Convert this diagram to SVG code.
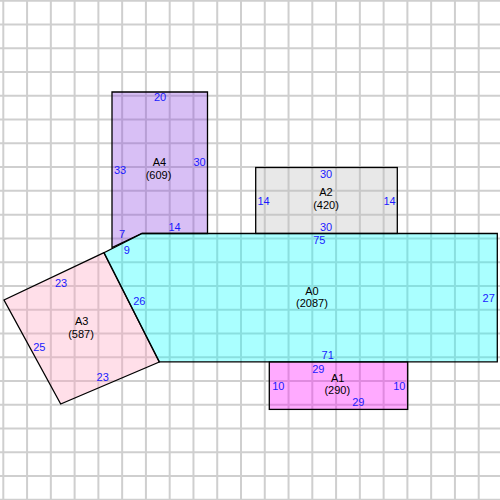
<svg xmlns="http://www.w3.org/2000/svg" width="500" height="500" viewBox="0 0 500 500">
<style>
.shape{stroke:#000;stroke-width:1.3;fill-opacity:0.333;stroke-linejoin:miter}
.grid{stroke:#cfcfcf;stroke-width:2;fill:none}
.lbl{font-family:"Liberation Sans",Arial,sans-serif;font-size:11px;fill:#000;text-anchor:middle}
.len{font-family:"Liberation Sans",Arial,sans-serif;font-size:11px;fill:#1a1aff;text-anchor:middle}
</style>
<rect width="500" height="500" fill="#fff"/>
<path class="grid" d="M3.3 0V500M27.07 0V500M50.84 0V500M74.61 0V500M98.38 0V500M122.15 0V500M145.92 0V500M169.69 0V500M193.46 0V500M217.23 0V500M241 0V500M264.77 0V500M288.54 0V500M312.31 0V500M336.08 0V500M359.85 0V500M383.62 0V500M407.39 0V500M431.16 0V500M454.93 0V500M478.7 0V500M0 0.7H500M0 24.47H500M0 48.24H500M0 72.01H500M0 95.78H500M0 119.55H500M0 143.32H500M0 167.09H500M0 190.86H500M0 214.63H500M0 238.4H500M0 262.17H500M0 285.94H500M0 309.71H500M0 333.48H500M0 357.25H500M0 381.02H500M0 404.79H500M0 428.56H500M0 452.33H500M0 476.1H500M0 499.87H500"/>
<g id="A4">
<polygon class="shape" fill="#8a3fe1" points="112,92 207.5,92 207.5,233.5 142,233.5 112,247.5"/>
<text class="len" x="160" y="101">20</text>
<text class="len" x="120" y="174">33</text>
<text class="len" x="199.5" y="166">30</text>
<text class="lbl" x="159.5" y="166">A4</text>
<text class="lbl" x="158.5" y="178.5">(609)</text>
<text class="len" x="174.5" y="231">14</text>
<text class="len" x="122" y="238">7</text>
</g>
<g id="A2">
<rect class="shape" fill="#bababa" x="255.7" y="167.5" width="141.6" height="66"/>
<text class="len" x="326" y="178">30</text>
<text class="lbl" x="326" y="196">A2</text>
<text class="lbl" x="326" y="209">(420)</text>
<text class="len" x="263.5" y="204.5">14</text>
<text class="len" x="389.5" y="204.5">14</text>
<text class="len" x="326" y="231">30</text>
</g>
<g id="A1">
<rect class="shape" fill="#ff00ff" x="269.3" y="361.8" width="138.4" height="47.6"/>
<text class="len" x="318.3" y="373">29</text>
<text class="lbl" x="337.7" y="382">A1</text>
<text class="lbl" x="337.3" y="394">(290)</text>
<text class="len" x="278.3" y="390">10</text>
<text class="len" x="399.3" y="390">10</text>
<text class="len" x="358.3" y="406">29</text>
</g>
<g id="A3">
<polygon class="shape" fill="#ff9fbd" points="104,252.7 4,300 60.7,404 159.3,362"/>
<text class="len" x="61" y="286.5">23</text>
<text class="lbl" x="81.7" y="325">A3</text>
<text class="lbl" x="81" y="338">(587)</text>
<text class="len" x="39.3" y="350.5">25</text>
<text class="len" x="102.7" y="380.5">23</text>
</g>
<g id="A0">
<polygon class="shape" fill="#00ffff" points="142,233.5 497.3,233.5 497.3,361.8 159.3,361.8 104,252.7"/>
<text class="lbl" x="312" y="294.5">A0</text>
<text class="lbl" x="312" y="307">(2087)</text>
<text class="len" x="488.7" y="302">27</text>
<text class="len" x="139.3" y="305">26</text>
<text class="len" x="126.7" y="254">9</text>
<text class="len" x="319.3" y="244">75</text>
<text class="len" x="327.7" y="359">71</text>
</g>
<g id="connectors"></g>
</svg>
